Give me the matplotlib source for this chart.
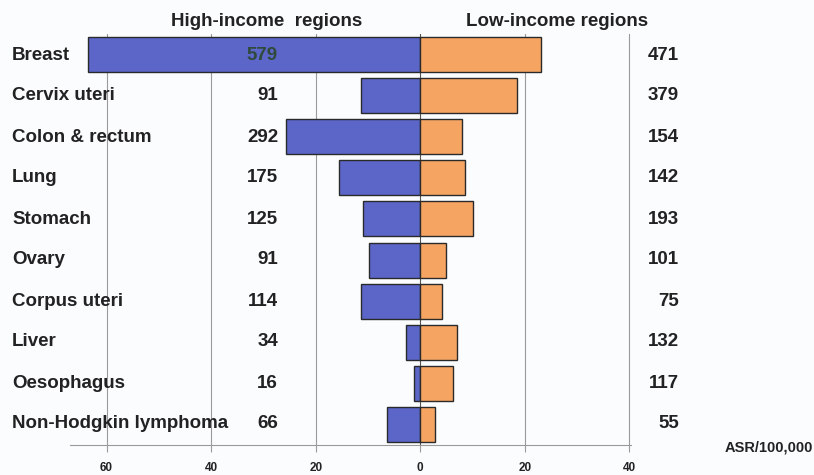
import matplotlib
matplotlib.use("Agg")
import matplotlib.pyplot as plt
import numpy as np

plt.rcParams['font.family'] = ['Liberation Sans', 'DejaVu Sans']

categories = ["Breast", "Cervix uteri", "Colon & rectum", "Lung", "Stomach",
              "Ovary", "Corpus uteri", "Liver", "Oesophagus", "Non-Hodgkin lymphoma"]
high_asr = [63.5, 11.3, 25.6, 15.6, 11.0, 9.8, 11.3, 2.7, 1.2, 6.3]
low_asr = [23.0, 18.5, 7.9, 8.5, 10.1, 5.0, 4.1, 7.0, 6.3, 2.8]
high_cases = [579, 91, 292, 175, 125, 91, 114, 34, 16, 66]
low_cases = [471, 379, 154, 142, 193, 101, 75, 132, 117, 55]
tick_vals = [-60, -40, -20, 0, 20, 40]
tick_labels = ["60", "40", "20", "0", "20", "40"]

W, H = 814, 475
fig = plt.figure(figsize=(W / 100, H / 100), dpi=100)
fig.patch.set_facecolor('#fafcfd')
ax = fig.add_axes([70 / W, 1 - 445 / H, (631 - 70) / W, (445 - 34) / H])
ax.set_facecolor('#fafcfd')

y = np.arange(len(categories))
blue = '#5b66c8'
orange = '#f6a462'
edge = '#2a2a2a'

for g in [-60, -40, -20, 20, 40]:
    ax.axvline(g, color='#9a9a9a', lw=0.8, zorder=0)

ax.barh(y, [-v for v in high_asr], height=0.85, color=blue, edgecolor=edge, lw=1.0, zorder=2)
ax.barh(y, low_asr, height=0.85, color=orange, edgecolor=edge, lw=1.0, zorder=2)
ax.axvline(0, color='#555555', lw=0.8, zorder=1)

ax.set_xlim(-67, 40.3)
ax.set_ylim(len(categories) - 0.5, -0.5)

for s in ['top', 'right', 'left']:
    ax.spines[s].set_visible(False)
ax.spines['bottom'].set_color('#9a9a9a')
ax.spines['bottom'].set_linewidth(0.8)

ax.set_yticks([])
ax.set_xticks(tick_vals)
ax.set_xticklabels(tick_labels, fontsize=8.5, fontweight='bold', color='#222222')
ax.tick_params(axis='x', length=5, color='#9a9a9a', pad=7)

txt = '#222222'
for i, cat in enumerate(categories):
    fig.text(12 / W, 1 - (55 + 41 * i) / H, cat, fontsize=13.5, fontweight='bold',
             color=txt, ha='left', va='center')
    col = '#2f4a3a' if i == 0 else txt
    fig.text(278 / W, 1 - (55 + 41 * i) / H, str(high_cases[i]), fontsize=13.5,
             fontweight='bold', color=col, ha='right', va='center', zorder=5)
    fig.text(679 / W, 1 - (55 + 41 * i) / H, str(low_cases[i]), fontsize=13.5,
             fontweight='bold', color=txt, ha='right', va='center')

fig.text(267 / W, 1 - 22 / H, "High-income  regions", fontsize=13.5, fontweight='bold',
         color=txt, ha='center', va='center')
fig.text(557 / W, 1 - 21 / H, "Low-income regions", fontsize=13.5, fontweight='bold',
         color=txt, ha='center', va='center')
fig.text(813 / W, 1 - 447 / H, "ASR/100,000", fontsize=10.5, fontweight='bold',
         color=txt, ha='right', va='center')

fig.savefig("out.png", dpi=100, facecolor=fig.get_facecolor())
